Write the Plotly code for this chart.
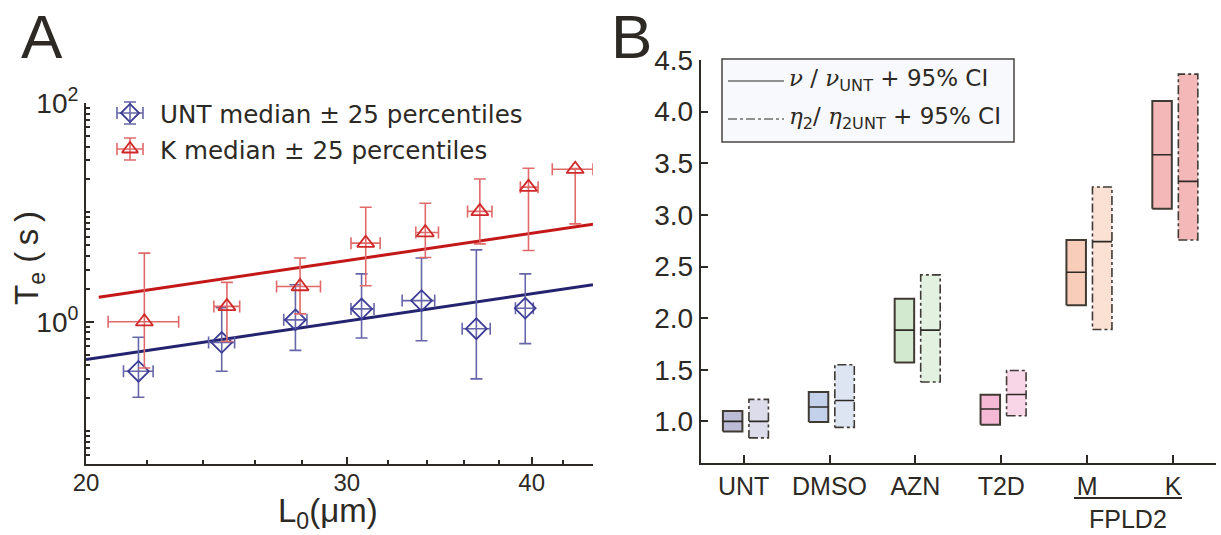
import numpy as np
import plotly.graph_objects as go

W, H = 1221, 535

# ---------------- Panel A data ----------------
unt_L0 = [21.7, 24.7, 27.7, 30.7, 33.7, 36.7, 39.6]
unt_L0_lo = [21.2, 24.2, 27.2, 30.2, 32.7, 35.9, 39.0]
unt_L0_hi = [22.2, 25.2, 28.2, 31.3, 34.4, 37.5, 40.1]
unt_Te = [0.352, 0.647, 1.04, 1.31, 1.56, 0.863, 1.33]
unt_Te_lo = [0.204, 0.352, 0.547, 0.71, 0.67, 0.30, 0.63]
unt_Te_hi = [0.72, 1.34, 2.18, 2.74, 3.82, 4.54, 2.74]

k_L0 = [21.9, 24.9, 27.9, 30.9, 33.9, 36.9, 39.8, 42.8]
k_L0_lo = [20.7, 24.4, 26.9, 30.2, 33.4, 36.2, 39.3, 41.3]
k_L0_hi = [23.1, 25.4, 28.8, 31.6, 34.6, 37.6, 40.4, 44.0]
k_Te = [1.0, 1.38, 2.10, 5.23, 6.54, 10.2, 17.0, 24.8]
k_Te_lo = [0.378, 0.66, 1.18, 2.13, 3.87, 5.15, 4.48, 7.85]
k_Te_hi = [4.24, 2.29, 3.82, 11.15, 12.1, 20.2, 25.3, 25.2]

# power-law fits  Te = a * (L0/20)^b
unt_fit_a, unt_fit_b, unt_fit_range = 0.45, 2.0, [20.0, 44.0]
k_fit_a, k_fit_b, k_fit_range = 1.61, 2.0, [20.4, 44.0]

# ---------------- Panel B data ----------------
categories = ["UNT", "DMSO", "AZN", "T2D", "M", "K"]
nu_low = [0.903, 0.994, 1.571, 0.968, 2.126, 3.06]
nu_med = [1.0, 1.139, 1.884, 1.12, 2.445, 3.582]
nu_high = [1.10, 1.284, 2.187, 1.258, 2.757, 4.104]
eta_low = [0.84, 0.942, 1.381, 1.055, 1.89, 2.757]
eta_med = [1.0, 1.203, 1.884, 1.261, 2.741, 3.325]
eta_high = [1.213, 1.548, 2.419, 1.493, 3.27, 4.363]
nu_colors = ["#bcbcd6", "#c3d1ea", "#d2e9cf", "#f5b9d6", "#f8cdb9", "#f4b8b9"]
eta_colors = ["#dcdcea", "#dde5f3", "#e3f1e0", "#f9d5e8", "#fbe0d4", "#f4b8b9"]

# ---------------- styling ----------------
INK = "#2d2924"
SANS = "Liberation Sans, Arial, sans-serif"
DEJA = "DejaVu Sans, sans-serif"
BLUE, BLUE_ERR, BLUE_FIT = "#3c3c96", "#6666a8", "#23236f"
RED, RED_ERR, RED_FIT = "#d02828", "#e06a6a", "#c41818"


def px(x, y):
    return x / W, 1 - y / H


fig = go.Figure()


def err(v, lo, hi):
    v = np.array(v); lo = np.array(lo); hi = np.array(hi)
    return hi - v, v - lo


# --- Panel A: fit lines ---
for a, b, rng, col in [(unt_fit_a, unt_fit_b, unt_fit_range, BLUE_FIT),
                       (k_fit_a, k_fit_b, k_fit_range, RED_FIT)]:
    xs = np.linspace(rng[0], rng[1], 40)
    fig.add_trace(go.Scatter(x=xs, y=a * (xs / 20.0) ** b, mode="lines",
                             line=dict(color=col, width=3), xaxis="x", yaxis="y",
                             showlegend=False, hoverinfo="skip"))

# --- Panel A: data with error bars ---
for xv, xlo, xhi, yv, ylo, yhi, sym, col, ecol, size in [
    (unt_L0, unt_L0_lo, unt_L0_hi, unt_Te, unt_Te_lo, unt_Te_hi, "diamond-open", BLUE, BLUE_ERR, 16),
    (k_L0, k_L0_lo, k_L0_hi, k_Te, k_Te_lo, k_Te_hi, "triangle-up-open", RED, RED_ERR, 15),
]:
    ey_p, ey_m = err(yv, ylo, yhi)
    ex_p, ex_m = err(xv, xlo, xhi)
    fig.add_trace(go.Scatter(
        x=xv, y=yv, mode="markers", xaxis="x", yaxis="y", showlegend=False,
        marker=dict(symbol=sym, size=size, color=col, line=dict(width=1.8, color=col)),
        error_y=dict(type="data", symmetric=False, array=ey_p, arrayminus=ey_m,
                     color=ecol, thickness=1.6, width=6),
        error_x=dict(type="data", symmetric=False, array=ex_p, arrayminus=ex_m,
                     color=ecol, thickness=1.6, width=6),
    ))

# --- Panel A legend (drawn on a pixel overlay axis) ---
leg_items = [("UNT median ± 25 percentiles", "diamond-open", BLUE, BLUE_ERR, 113),
             ("K median ± 25 percentiles", "triangle-up-open", RED, RED_ERR, 149)]
for label, sym, col, ecol, ly in leg_items:
    fig.add_trace(go.Scatter(
        x=[130], y=[ly], mode="markers", xaxis="x3", yaxis="y3", showlegend=False,
        marker=dict(symbol=sym, size=14, color=col, line=dict(width=1.8, color=col)),
        error_y=dict(type="constant", value=11, color=ecol, thickness=1.6, width=6),
        error_x=dict(type="constant", value=13, color=ecol, thickness=1.6, width=6),
        hoverinfo="skip"))

# --- Panel B boxes ---
nu_off, eta_off, bw = -0.128, 0.175, 0.227
for i, cat in enumerate(categories):
    for off, lo, med, hi, fc, dash, lw in [
        (nu_off, nu_low[i], nu_med[i], nu_high[i], nu_colors[i], "solid", 2.0),
        (eta_off, eta_low[i], eta_med[i], eta_high[i], eta_colors[i], "dashdot", 1.6),
    ]:
        x0, x1 = i + off - bw / 2, i + off + bw / 2
        fig.add_trace(go.Scatter(
            x=[x0, x1, x1, x0, x0], y=[lo, lo, hi, hi, lo], mode="lines",
            fill="toself", fillcolor=fc, line=dict(color="#403a34", width=lw, dash=dash),
            xaxis="x2", yaxis="y2", showlegend=False, hoverinfo="skip"))
        fig.add_trace(go.Scatter(
            x=[x0, x1], y=[med, med], mode="lines",
            line=dict(color="#2d2924", width=1.6),
            xaxis="x2", yaxis="y2", showlegend=False, hoverinfo="skip"))

annotations = []
shapes = []

# axis titles / panel letters
annotations += [
    dict(text="A", x=px(42, 0)[0], y=px(0, 37)[1], font=dict(size=62, family=SANS, color=INK)),
    dict(text="B", x=px(631, 0)[0], y=px(0, 36)[1], font=dict(size=62, family=SANS, color=INK)),
    dict(text="T<sub>e</sub> (\u2009s\u2009)", x=px(29, 0)[0], y=px(0, 258)[1], textangle=-90,
         font=dict(size=33, family=SANS, color=INK)),
    dict(text="L<sub>0</sub>(μm)", x=px(328, 0)[0], y=px(0, 513)[1],
         font=dict(size=33, family=SANS, color=INK)),
    dict(text="FPLD2", x=px(1128, 0)[0], y=px(0, 519)[1],
         font=dict(size=25, family=SANS, color=INK)),
]
for label, sym, col, ecol, ly in leg_items:
    annotations.append(dict(text=label, x=px(158, 0)[0], y=px(0, ly + 1)[1], xanchor="left",
                            font=dict(size=24.6, family=DEJA, color=INK)))

# panel B legend
bx0, by0 = px(722, 59)
bx1, by1 = px(1014, 142)
shapes.append(dict(type="rect", xref="paper", yref="paper", x0=bx0, y0=by1, x1=bx1, y1=by0,
                   fillcolor="#f7f9fd", line=dict(color="#4a4540", width=1.5), layer="above"))
for yy, dash in [(81, "solid"), (119, "dashdot")]:
    a0, b0 = px(728, yy)
    a1, _ = px(784, yy)
    shapes.append(dict(type="line", xref="paper", yref="paper", x0=a0, x1=a1, y0=b0, y1=b0,
                       line=dict(color="#2d2924", width=1.2, dash=dash), layer="above"))
SER = "DejaVu Serif"
annotations += [
    dict(text=f"<span style='font-family:{SER}'><i>ν</i></span> / <span style='font-family:{SER}'><i>ν</i></span><sub>UNT</sub> + 95% CI",
         x=px(787, 0)[0], y=px(0, 80)[1], xanchor="left", font=dict(size=23, family=DEJA, color=INK)),
    dict(text=f"<span style='font-family:{SER}'><i>η</i></span><sub>2</sub>/ <span style='font-family:{SER}'><i>η</i></span><sub>2UNT</sub> + 95% CI",
         x=px(787, 0)[0], y=px(0, 118)[1], xanchor="left", font=dict(size=23, family=DEJA, color=INK)),
]
# FPLD2 underline
l0, ly0 = px(1074, 498)
l1, _ = px(1182, 498)
shapes.append(dict(type="line", xref="paper", yref="paper", x0=l0, x1=l1, y0=ly0, y1=ly0,
                   line=dict(color=INK, width=2)))

for an in annotations:
    an.setdefault("xref", "paper")
    an.setdefault("yref", "paper")
    an.setdefault("showarrow", False)
    an.setdefault("xanchor", "center")
    an.setdefault("yanchor", "middle")

axis_common = dict(showline=True, linecolor=INK, linewidth=2, showgrid=False, zeroline=False,
                   tickcolor=INK, tickwidth=1.5, fixedrange=True, automargin=False)

y_minor = [0.06, 0.07, 0.08, 0.09, 0.1, 0.2, 0.3, 0.4, 0.5, 0.6, 0.7, 0.8, 0.9,
           2, 3, 4, 5, 6, 7, 8, 9, 10, 20, 30, 40, 50, 60, 70, 80, 90]
x_minor = [22, 24, 26, 28, 32, 34, 36, 38, 42, 44]

fig.update_layout(
    template="none",
    width=W, height=H, margin=dict(l=0, r=0, t=0, b=0, pad=0, autoexpand=False),
    paper_bgcolor="white", plot_bgcolor="rgba(0,0,0,0)",
    showlegend=False,
    xaxis=dict(type="log", domain=[86 / W, 593 / W], range=[np.log10(20), np.log10(44)],
               tickvals=[20, 30, 40], ticktext=["20", "30", "40"], ticks="inside", ticklen=7,
               ticklabelstandoff=-4,
               tickfont=dict(size=24, family=SANS, color=INK), anchor="y",
               minor=dict(ticks="inside", ticklen=4, tickvals=x_minor, tickcolor=INK, tickwidth=1.5),
               **axis_common),
    yaxis=dict(type="log", domain=[1 - 464 / H, 1 - 103 / H], range=[np.log10(0.05), 2],
               tickvals=[1, 100], ticktext=["10<sup>0</sup>", "10<sup>2</sup>"], ticks="inside",
               ticklen=8, tickfont=dict(size=28, family=SANS, color=INK), anchor="x",
               minor=dict(ticks="inside", ticklen=4, tickvals=y_minor, tickcolor=INK, tickwidth=1.5),
               **axis_common),
    xaxis2=dict(domain=[700.7 / W, 1216 / W], range=[-0.5, 5.5], tickvals=list(range(6)),
                ticktext=categories, ticks="inside", ticklen=8, anchor="y2",
                tickfont=dict(size=25, family=SANS, color=INK), **axis_common),
    yaxis2=dict(domain=[1 - 462.7 / H, 1 - 60 / H], range=[0.6, 4.5],
                tickvals=[1.0, 1.5, 2.0, 2.5, 3.0, 3.5, 4.0, 4.5], tickformat=".1f",
                ticks="inside", ticklen=7, anchor="x2",
                tickfont=dict(size=28, family=SANS, color=INK), **axis_common),
    xaxis3=dict(domain=[0, 1], range=[0, W], visible=False, fixedrange=True, anchor="y3"),
    yaxis3=dict(domain=[0, 1], range=[H, 0], visible=False, fixedrange=True, anchor="x3"),
    annotations=annotations, shapes=shapes,
)

fig.write_html("out.html", config={"displayModeBar": False},
               post_script="document.body.style.margin='0px';document.body.style.padding='0px';")
